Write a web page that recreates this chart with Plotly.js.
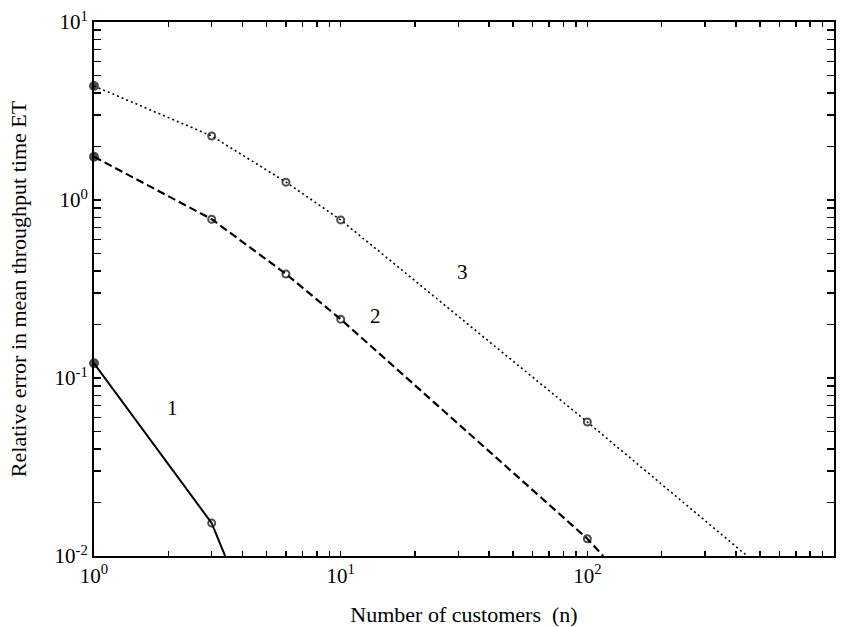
<!DOCTYPE html>
<html>
<head>
<meta charset="utf-8">
<script src="https://cdn.plot.ly/plotly-3.0.1.min.js"></script>
<style>html,body{margin:0;padding:0;background:#fff;}#chart{width:843px;height:627px;}</style>
</head>
<body>
<div id="chart"></div>
<script>
// Data
const series1_x = [1, 3, 3.4];
const series1_y = [0.121, 0.0153, 0.01];
const series2_x = [1, 3, 6, 10, 100, 116];
const series2_y = [1.75, 0.78, 0.384, 0.214, 0.0125, 0.01];
const series3_x = [1, 3, 6, 10, 100, 445];
const series3_y = [4.37, 2.29, 1.26, 0.773, 0.0566, 0.01];
const curveLabels = ["1", "2", "3"];
const labelX = [2.09, 13.8, 31.3];
const labelY = [0.0678, 0.223, 0.394];
const xTickDecades = [1, 10, 100, 1000];
const xTickText = ["10<sup>0</sup>", "10<sup>1</sup>", "10<sup>2</sup>", "10<sup>3</sup>"];
const yTickDecades = [0.01, 0.1, 1, 10];
const yTickText = ["10<sup>-2</sup>", "10<sup>-1</sup>", "10<sup>0</sup>", "10<sup>1</sup>"];

function logTicks(decades, labels) {
  const vals = [], text = [];
  decades.forEach((d, i) => {
    vals.push(d); text.push(labels[i]);
    if (i < decades.length - 1) {
      for (let m = 2; m <= 9; m++) { vals.push(d * m); text.push(""); }
    }
  });
  return {vals, text};
}
function markerSpec(n) {
  const sym = [], size = [];
  for (let i = 0; i < n; i++) {
    if (i === 0) { sym.push("circle"); size.push(8); }
    else if (i === n - 1) { sym.push("circle-open"); size.push(0); }
    else { sym.push("circle-open"); size.push(7); }
  }
  return {symbol: sym, size: size, color: "#000", line: {color: "#000", width: 2}};
}

const xt = logTicks(xTickDecades, xTickText);
const yt = logTicks(yTickDecades, yTickText);

const traces = [
  {x: series1_x, y: series1_y, mode: "lines+markers", line: {color: "#000", width: 2, dash: "solid"}, marker: markerSpec(series1_x.length), cliponaxis: false},
  {x: series2_x, y: series2_y, mode: "lines+markers", line: {color: "#000", width: 2.2, dash: "8px,4px"}, marker: markerSpec(series2_x.length), cliponaxis: false},
  {x: series3_x, y: series3_y, mode: "lines+markers", line: {color: "#000", width: 1.6, dash: "2px,3px"}, marker: markerSpec(series3_x.length), cliponaxis: false}
];

const annotations = curveLabels.map((t, i) => ({
  x: Math.log10(labelX[i]), y: Math.log10(labelY[i]), xref: "x", yref: "y",
  text: t, showarrow: false, font: {family: "Liberation Serif, serif", size: 21, color: "#000"}
}));

const axisCommon = {
  type: "log", showgrid: false, zeroline: false, showline: true, linecolor: "#000", linewidth: 2,
  mirror: "ticks", ticks: "inside", tickcolor: "#000", tickwidth: 1.5, tickmode: "array",
  tickfont: {family: "Liberation Serif, serif", size: 21, color: "#000"}
};

const layout = {
  width: 843, height: 627,
  margin: {l: 94, r: 9, t: 22, b: 71},
  paper_bgcolor: "#fff", plot_bgcolor: "#fff",
  showlegend: false,
  font: {family: "Liberation Serif, serif", color: "#000"},
  xaxis: Object.assign({}, axisCommon, {
    range: [0, 3], tickvals: xt.vals, ticktext: xt.text, ticklen: 5,
    title: {text: "Number of customers  (n)", font: {family: "Liberation Serif, serif", size: 22, color: "#000"}, standoff: 26}
  }),
  yaxis: Object.assign({}, axisCommon, {
    range: [-2, 1], tickvals: yt.vals, ticktext: yt.text, ticklen: 7,
    title: {text: "Relative error in mean throughput time ET", font: {family: "Liberation Serif, serif", size: 22, color: "#000"}, standoff: 22}
  }),
  annotations: annotations
};

Plotly.newPlot("chart", traces, layout, {displayModeBar: false, staticPlot: true});
</script>
</body>
</html>
